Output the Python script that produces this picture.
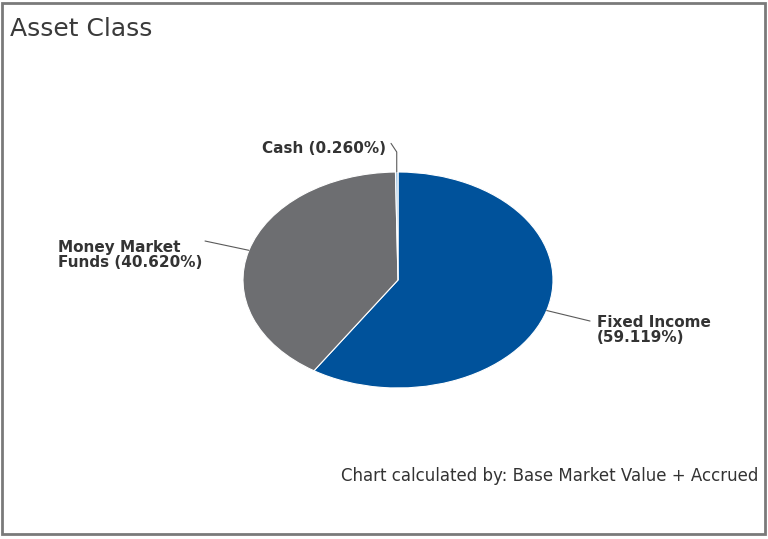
import matplotlib.pyplot as plt, seaborn as sns, numpy as np
from matplotlib.patches import Rectangle

# Asset class split (percent)
labels = ["Fixed Income", "Money Market\nFunds", "Cash"]
values = [59.119, 40.620, 0.260]
colors = ["#00529B", "#6D6E71", "#9DC3E3"]

sns.set_theme(style="white")
plt.rcParams['font.family'] = ['DejaVu Sans']

W, H = 768, 539
fig = plt.figure(figsize=(W / 100, H / 100), dpi=100)
fig.patch.set_facecolor("white")

# pie box in pixels: x 243..553, y 172..388 (stretched like the screenshot)
ax = fig.add_axes([243 / W, 1 - 388 / H, 310 / W, 216 / H])
wedges, _ = ax.pie(values, colors=colors, startangle=90, counterclock=False,
                   radius=1, wedgeprops=dict(edgecolor="white", linewidth=0.8))
ax.set_aspect("auto")
ax.set_xlim(-1, 1)
ax.set_ylim(-1, 1)
ax.axis("off")

# leader lines + labels (offsets only, anchor from wedge angles)
line_kw = dict(color="#5a5a5a", lw=0.8, clip_on=False)
txt_kw = dict(fontsize=11, fontweight="bold", color="#333333", linespacing=1.0)
for w, lab, v in zip(wedges, labels, values):
    ang = np.deg2rad((w.theta1 + w.theta2) / 2)
    x0, y0 = np.cos(ang), np.sin(ang)
    texte = f"{lab} ({v:.3f}%)" if "\n" in lab or lab == "Cash" else f"{lab}\n({v:.3f}%)"
    if lab == "Cash":
        ax.plot([x0, x0, -0.045], [y0, 1.185, 1.265], **line_kw)
        ax.text(-0.075, 1.218, texte, ha="right", va="center", **txt_kw)
    elif x0 > 0:
        ax.plot([x0, 1.239], [y0, -0.380], **line_kw)
        ax.text(1.284, -0.463, texte, ha="left", va="center", multialignment="left", **txt_kw)
    else:
        ax.plot([x0, -1.245], [y0, 0.361], **line_kw)
        ax.text(-1.265, 0.231, texte, ha="right", va="center", multialignment="left", **txt_kw)

fig.text(10 / W, 1 - 36 / H, "Asset Class", fontsize=18, color="#3a3a3a", va="baseline", ha="left")
fig.text(758 / W, 1 - 481 / H, "Chart calculated by: Base Market Value + Accrued",
         fontsize=12, color="#333333", va="baseline", ha="right")

# outer frame
fig.patches.append(Rectangle((2 / W, 1 - 534 / H), 763 / W, 531 / H, transform=fig.transFigure,
                             fill=False, edgecolor="#7a7a7a", linewidth=2))

plt.savefig("out.png", dpi=100)
